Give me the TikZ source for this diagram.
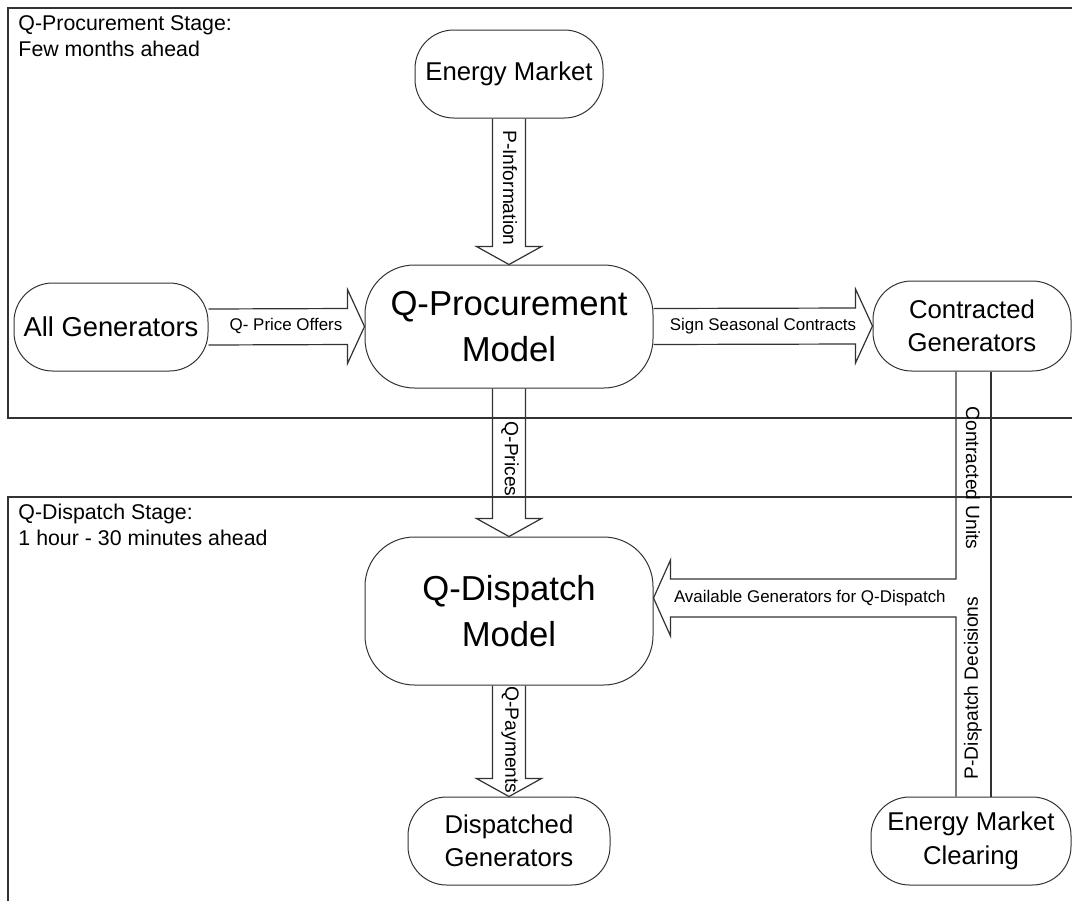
\documentclass[tikz,border=0pt]{standalone}
\usepackage{fontspec}
\setmainfont{Liberation Sans}
\usetikzlibrary{calc}

\tikzset{every picture/.style={line width=0.75pt}}

\begin{document}
\begin{tikzpicture}[x=0.75pt,y=0.75pt,yscale=-1,xscale=1,
  stadium/.style={draw={rgb, 255:red, 50; green, 50; blue, 50}, rounded corners=29pt, align=center, inner sep=0pt, font=\fontsize{19.3}{25}\selectfont},
  bigstadium/.style={stadium, rounded corners=37pt, font=\fontsize{26}{34}\selectfont},
  blockarrow/.style={draw={rgb, 255:red, 50; green, 50; blue, 50}, line width=0.9pt},
  stageframe/.style={draw={rgb, 255:red, 50; green, 50; blue, 50}, line width=0.9pt},
  vlabel/.style={inner sep=0pt, font=\fontsize{14.4}{17}\selectfont},
  hlabel/.style={inner sep=0pt, font=\fontsize{12.7}{15}\selectfont},
  stagelabel/.style={inner sep=0pt, anchor=north west, align=left, font=\fontsize{16}{19.5}\selectfont}]
\useasboundingbox (0,0) rectangle (1072,901);

%Shape: stage frames
\draw [stageframe] (1072,8) -- (8,8) -- (8,418) -- (1072,418) ;
\draw [stageframe] (1072,497) -- (8,497) -- (8,901) ;

% Text Node
\draw (18,15) node [stagelabel] {Q-Procurement Stage:\\Few months ahead};
% Text Node
\draw (18,504) node [stagelabel] {Q-Dispatch Stage:\\1 hour - 30 minutes ahead};

%Shape: stadiums
\node [stadium, minimum width=141pt, minimum height=66pt] (em) at (509,74) {Energy Market};
\node [stadium, minimum width=145.5pt, minimum height=66pt, font=\fontsize{20.5}{25}\selectfont] (ag) at (111,327) {All Generators};
\node [bigstadium, minimum width=216pt, minimum height=92.25pt] (qp) at (509,326.5) {Q-Procurement\\Model};
\node [stadium, minimum width=148.5pt, minimum height=67.5pt] (cg) at (972,326) {Contracted\\Generators};
\node [bigstadium, minimum width=216pt, minimum height=111pt] (qd) at (509,611) {Q-Dispatch\\Model};
\node [stadium, minimum width=151.5pt, minimum height=66pt] (dg) at (509,841) {Dispatched\\Generators};
\node [stadium, minimum width=150pt, minimum height=66pt] (emc) at (971,841) {Energy Market\\Clearing};

%Shape: block arrows down
\draw [blockarrow] ($(em.south)+(-16.5,0)$) -- ($(qp.north)+(-16.5,-18)$) -- ($(qp.north)+(-32.5,-18)$) -- (qp.north) -- ($(qp.north)+(32.5,-18)$) -- ($(qp.north)+(16.5,-18)$) -- ($(em.south)+(16.5,0)$) ;
\draw [blockarrow] ($(qp.south)+(-16.5,0)$) -- ($(qd.north)+(-16.5,-18)$) -- ($(qd.north)+(-32.5,-18)$) -- (qd.north) -- ($(qd.north)+(32.5,-18)$) -- ($(qd.north)+(16.5,-18)$) -- ($(qp.south)+(16.5,0)$) ;
\draw [blockarrow] ($(qd.south)+(-16.5,0)$) -- ($(dg.north)+(-16.5,-18)$) -- ($(dg.north)+(-32.5,-18)$) -- (dg.north) -- ($(dg.north)+(32.5,-18)$) -- ($(dg.north)+(16.5,-18)$) -- ($(qd.south)+(16.5,0)$) ;

%Shape: block arrows right
\draw [blockarrow] ($(ag.east)+(0,-18)$) -- ($(qp.west)+(-17,-18)$) -- ($(qp.west)+(-17,-37)$) -- (qp.west) -- ($(qp.west)+(-17,37)$) -- ($(qp.west)+(-17,18)$) -- ($(ag.east)+(0,18)$) ;
\draw [blockarrow] ($(qp.east)+(0,-18)$) -- ($(cg.west)+(-17,-18)$) -- ($(cg.west)+(-17,-37)$) -- (cg.west) -- ($(cg.west)+(-17,37)$) -- ($(cg.west)+(-17,18)$) -- ($(qp.east)+(0,18)$) ;

%Shape: merged block arrow into Q-Dispatch
\coordinate (tip) at ($(qd.east)+(0,-13)$);
\draw [blockarrow] ($(cg.south)+(-16,0)$) |- ($(tip)+(17,-19)$) -- ($(tip)+(17,-38)$) -- (tip) -- ($(tip)+(17,38)$) -- ($(tip)+(17,19)$) -| ($(emc.north)+(-15,0)$) ;
\draw [blockarrow] ($(cg.south)+(19,0)$) -- ($(emc.north)+(20,0)$) ;

% Text Node
\draw (510,188) node [vlabel, rotate=-90] {P-Information};
% Text Node
\draw (510,459) node [vlabel, rotate=-90] {Q-Prices};
% Text Node
\draw (510,740) node [vlabel, rotate=-90] {Q-Payments};
% Text Node
\draw (286,326) node [hlabel] {Q- Price Offers};
% Text Node
\draw (763,326) node [hlabel] {Sign Seasonal Contracts};
% Text Node
\draw ($(tip)+(20,0)$) node [hlabel, anchor=west] {Available Generators for Q-Dispatch};
% Text Node
\draw (973,478) node [vlabel, rotate=-90] {Contracted Units};
% Text Node
\draw (973,688) node [vlabel, rotate=90] {P-Dispatch Decisions};

\end{tikzpicture}
\end{document}
